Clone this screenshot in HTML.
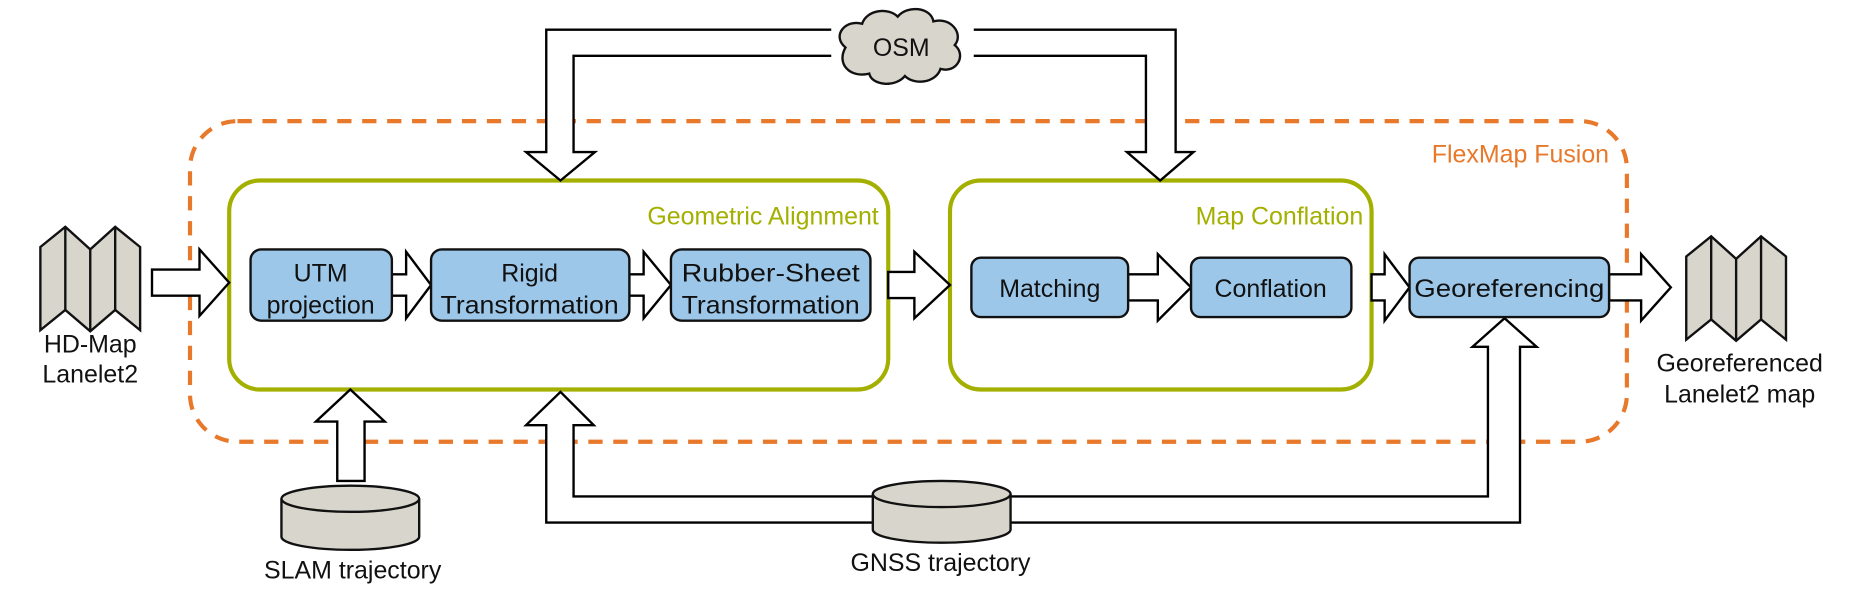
<!DOCTYPE html>
<html><head><meta charset="utf-8"><style>
html,body{margin:0;padding:0;background:#fff}
svg{display:block}
text{font-family:"Liberation Sans",Arial,sans-serif}
</style></head><body>
<svg width="1862" height="606" viewBox="0 0 1568 510.3" preserveAspectRatio="none" xmlns="http://www.w3.org/2000/svg">
<rect x="160" y="102" width="1210" height="270" rx="40" fill="none" stroke="#e8782a" stroke-width="3.5" stroke-dasharray="12,9"/>
<text x="1355" y="137" font-size="21" fill="#e8782a" text-anchor="end">FlexMap Fusion</text>

<rect x="193" y="152" width="555" height="176" rx="26" fill="#fff" stroke="#a3b000" stroke-width="3.5"/>
<text x="740" y="189" font-size="21" fill="#a3b000" text-anchor="end">Geometric Alignment</text>
<rect x="800" y="152" width="355" height="176" rx="26" fill="#fff" stroke="#a3b000" stroke-width="3.5"/>
<text x="1148" y="189" font-size="21" fill="#a3b000" text-anchor="end">Map Conflation</text>

<g fill="#fff" stroke="#000" stroke-width="2">
<polyline points="700,25 460,25 460,128 443,128 472,152 501,128 483,128 483,47 700,47" />
<polyline points="820,25 990,25 990,128 1005,128 977,152 949,128 965,128 965,47 820,47" />
<polyline points="735,418 483,418 483,358 500,358 472,330 443,358 460,358 460,440 735,440" />
<polyline points="850,418 1253,418 1253,292 1240,292 1267,268 1294,292 1280,292 1280,440 850,440" />
<polygon points="284,405 284,355 266,355 295,328 324,355 307,355 307,405"/>
<polygon points="128,227 168,227 168,210 193,238 168,266 168,249 128,249"/>
<polygon points="330,231 342,231 342,212 363,240 342,268 342,249 330,249"/>
<polygon points="530,231 542,231 542,212 565,240 542,268 542,249 530,249"/>
<polygon points="748,229 770,229 770,212 800,240 770,268 770,251 748,251"/>
<polygon points="950,231 975,231 975,214 1003,242 975,270 975,253 950,253"/>
<polygon points="1155,231 1166,231 1166,214 1187,242 1166,270 1166,253 1155,253"/>
<polygon points="1355,231 1382,231 1382,214 1407,242 1382,270 1382,253 1355,253"/>
</g>

<g fill="#9dc7e9" stroke="#111" stroke-width="2">
<rect x="211" y="210" width="119" height="60" rx="9"/>
<rect x="363" y="210" width="167" height="60" rx="9"/>
<rect x="565" y="210" width="168" height="60" rx="9"/>
<rect x="818" y="217" width="132" height="50" rx="8"/>
<rect x="1003" y="217" width="135" height="50" rx="8"/>
<rect x="1187" y="217" width="168" height="50" rx="8"/>
</g>
<g font-size="21" fill="#111" text-anchor="middle">
<text x="270" y="237">UTM</text><text x="270" y="264">projection</text>
<text x="446" y="237">Rigid</text><text x="446" y="264" textLength="150" lengthAdjust="spacingAndGlyphs">Transformation</text>
<text x="649" y="237" textLength="150" lengthAdjust="spacingAndGlyphs">Rubber-Sheet</text><text x="649" y="264" textLength="150" lengthAdjust="spacingAndGlyphs">Transformation</text>
<text x="884" y="250">Matching</text>
<text x="1070" y="250">Conflation</text>
<text x="1271" y="250" textLength="160" lengthAdjust="spacingAndGlyphs">Georeferencing</text>
</g>

<path d="M712,40 C700,30 712,16 726,20 C730,8 748,6 756,14 C764,4 784,6 786,18 C800,14 812,28 804,38 C814,46 806,62 792,58 C788,70 770,72 762,64 C754,74 734,72 732,62 C716,66 704,54 712,40 Z" fill="#d8d6cc" stroke="#111" stroke-width="2"/>
<text x="759" y="47" font-size="21" text-anchor="middle" fill="#111">OSM</text>

<g fill="#d8d6cc" stroke="#111" stroke-width="2">
<path d="M237,420 L237,452 A58,11 0 0 0 353,452 L353,420"/>
<ellipse cx="295" cy="420" rx="58" ry="11"/>
<path d="M735,416 L735,446 A58,11 0 0 0 851,446 L851,416"/>
<ellipse cx="793" cy="416" rx="58" ry="11"/>
</g>
<g font-size="21" fill="#111" text-anchor="middle">
<text x="297" y="487">SLAM trajectory</text>
<text x="792" y="481">GNSS trajectory</text>
<text x="76" y="297">HD-Map</text>
<text x="76" y="322">Lanelet2</text>
<text x="1465" y="313">Georeferenced</text>
<text x="1465" y="339">Lanelet2 map</text>
</g>

<g fill="#d8d6cc" stroke="#111" stroke-width="2" stroke-linejoin="miter">
<polygon points="34,208 55,191 76,210 97,191 118,208 118,278 97,261 76,279 55,261 34,278"/>
<line x1="55" y1="191" x2="55" y2="261"/><line x1="76" y1="210" x2="76" y2="279"/><line x1="97" y1="191" x2="97" y2="261"/>
<polygon points="1420,216 1441,199 1462,218 1483,199 1504,216 1504,286 1483,269 1462,287 1441,269 1420,286"/>
<line x1="1441" y1="199" x2="1441" y2="269"/><line x1="1462" y1="218" x2="1462" y2="287"/><line x1="1483" y1="199" x2="1483" y2="269"/>
</g>
</svg>
</body></html>
